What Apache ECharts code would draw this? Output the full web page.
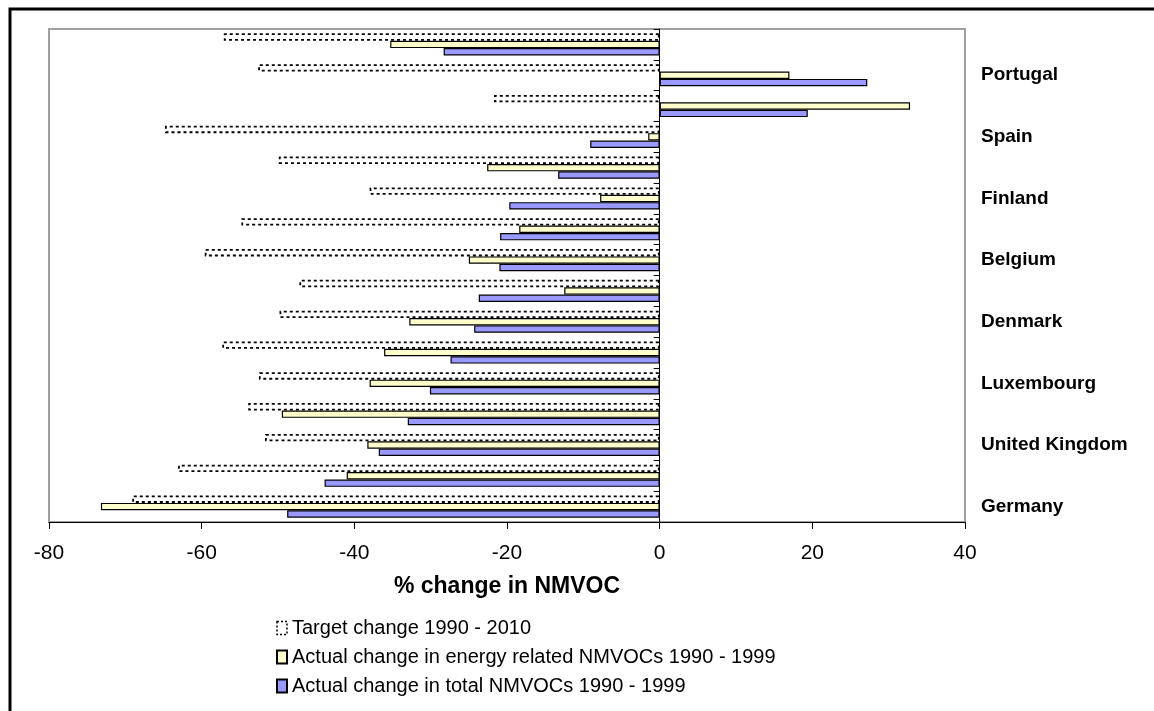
<!DOCTYPE html>
<html>
<head>
<meta charset="utf-8">
<script src="https://cdn.jsdelivr.net/npm/echarts@6/dist/echarts.min.js"></script>
<style>
html,body{margin:0;padding:0;background:#fff;}
#chart{width:1154px;height:711px;}
</style>
</head>
<body>
<div id="chart"></div>
<script>
// Categories listed top to bottom (only every other one is labelled in the reference)
var categories = ['EU15','Portugal','Greece','Spain','Ireland','Finland','Italy','Belgium','France','Denmark','Austria','Luxembourg','Sweden','United Kingdom','Netherlands','Germany'];
var seriesNames = ['Target change 1990 - 2010','Actual change in energy related NMVOCs 1990 - 1999','Actual change in total NMVOCs 1990 - 1999'];
var targetChange = [-57.1,-52.6,-21.7,-64.8,-49.9,-38.0,-54.8,-59.6,-47.2,-49.8,-57.3,-52.5,-53.9,-51.7,-63.1,-69.1];
var energyChange = [-35.3,17.0,32.8,-1.5,-22.6,-7.8,-18.4,-25.0,-12.5,-32.8,-36.1,-38.0,-49.5,-38.3,-41.0,-73.2];
var totalChange  = [-28.3,27.2,19.4,-9.1,-13.3,-19.7,-20.9,-21.0,-23.7,-24.3,-27.4,-30.1,-33.0,-36.8,-43.9,-48.8];
var xTicks = [-80,-60,-40,-20,0,20,40];

var FONT = '"Liberation Sans", Arial, sans-serif';
var chart = echarts.init(document.getElementById('chart'), null, {renderer:'canvas'});
chart.setOption({
  backgroundColor:'#ffffff',
  animation:false,
  graphic:[{
    type:'rect', z:-10, silent:true,
    shape:{x:10,y:9,width:1400,height:1000},
    style:{fill:'none',stroke:'#000',lineWidth:3}
  }],
  grid:{left:49,right:189,top:29,bottom:189,show:true,borderColor:'#a0a0a0',borderWidth:2,backgroundColor:'#fff',containLabel:false},
  legend:{
    orient:'vertical', left:271, top:613,
    itemGap:9, itemWidth:10, itemHeight:13, icon:'rect',
    data:[
      {name:seriesNames[0], itemStyle:{color:'#fff',borderColor:'#000',borderWidth:1.5,borderType:[2,2]}},
      {name:seriesNames[1]},
      {name:seriesNames[2]}
    ],
    textStyle:{fontFamily:FONT,fontSize:20,lineHeight:20,color:'#000'},
    selectedMode:false
  },
  xAxis:{
    type:'value', min:xTicks[0], max:xTicks[xTicks.length-1], interval:20,
    axisLine:{show:true,onZero:false,lineStyle:{color:'#000',width:1}},
    axisTick:{show:true,length:7,lineStyle:{color:'#000'}},
    splitLine:{show:false},
    axisLabel:{fontFamily:FONT,fontSize:21,color:'#000',margin:21},
    name:'% change in NMVOC', nameLocation:'middle', nameGap:53,
    nameTextStyle:{fontFamily:FONT,fontSize:23,fontWeight:'bold',color:'#000'}
  },
  yAxis:[{
    type:'category', data:categories, inverse:true,
    axisLine:{show:true,onZero:true,lineStyle:{color:'#000',width:1}},
    axisTick:{show:true,length:6,lineStyle:{color:'#000'}},
    axisLabel:{show:false},
    splitLine:{show:false}
  },{
    type:'category', data:categories, inverse:true, position:'right',
    axisLine:{show:false}, axisTick:{show:false}, splitLine:{show:false},
    axisLabel:{
      fontFamily:FONT,fontSize:19,fontWeight:'bold',color:'#000',margin:16,
      interval:function(i){return i%2===1;}
    }
  }],
  series:[{
    name:seriesNames[0], type:'bar', data:targetChange, yAxisIndex:0,
    barGap:'0%', barCategoryGap:'28%',
    itemStyle:{color:'rgba(255,255,255,0)',borderColor:'#000',borderWidth:1.8,borderType:[3,3]}
  },{
    name:seriesNames[1], type:'bar', data:energyChange, yAxisIndex:0,
    barGap:'0%', barCategoryGap:'28%',
    itemStyle:{color:'#FFFFCC',borderColor:'#000',borderWidth:1.2}
  },{
    name:seriesNames[2], type:'bar', data:totalChange, yAxisIndex:0,
    barGap:'0%', barCategoryGap:'28%',
    itemStyle:{color:'#9999FF',borderColor:'#000',borderWidth:1.2}
  }]
});
</script>
</body>
</html>
